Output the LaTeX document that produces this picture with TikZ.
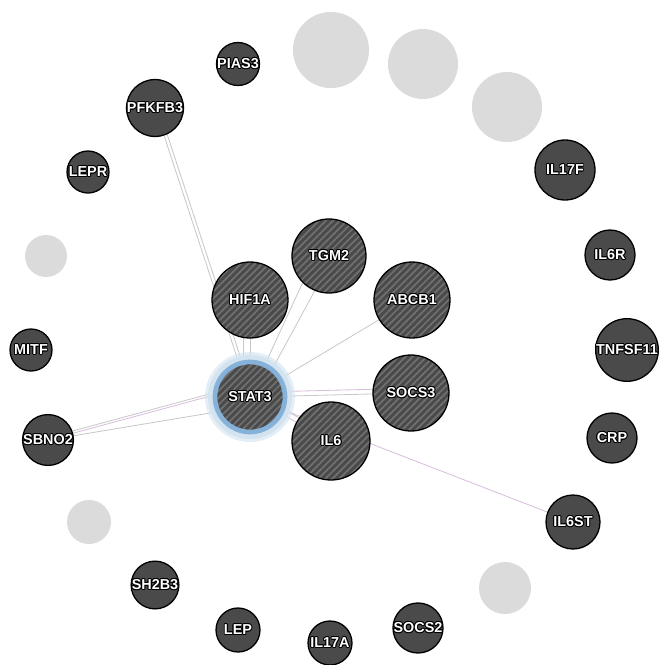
\documentclass[tikz,border=0pt]{standalone}
\usepackage{fontspec}
\newfontfamily\labelfont{Liberation Sans}
\usepackage[copies]{contour}
\contourlength{0.8pt}
\contournumber{12}
\usetikzlibrary{patterns.meta}
\definecolor{nodegray}{HTML}{4A4A4A}
\definecolor{stripegray}{HTML}{707070}
\definecolor{ghost}{HTML}{DBDBDB}
\definecolor{edgegray}{HTML}{C8C8C8}
\definecolor{edgeviolet}{HTML}{D8BEDD}
\definecolor{halo}{HTML}{86B1D8}
\definecolor{haloglow}{HTML}{D3E3F0}
% white label with a black outline
\newcommand\lbl[1]{\contour{black}{#1}}
\pgfdeclarelayer{bg}
\pgfdeclarelayer{edges}
\pgfsetlayers{bg,edges,main}
\tikzset{
  rad/.style={minimum size=#1*0.06cm},
  gene/.style={circle, draw=black, line width=1.1pt, fill=nodegray, text=white,
    inner sep=0pt, font=\labelfont\bfseries\fontsize{12.3}{13}\selectfont},
  query/.style={gene, preaction={fill=nodegray},
    pattern={Lines[angle=45,distance=4.2pt,line width=1.5pt]}, pattern color=stripegray},
  ghostnode/.style={circle, fill=ghost, draw=none, inner sep=0pt},
  link/.style={draw=edgegray, line width=0.7pt},
  vlink/.style={draw=edgeviolet, line width=0.7pt}
}
\begin{document}
\begin{tikzpicture}[x=0.03cm,y=-0.03cm]
\useasboundingbox (0,0) rectangle (661,665);
\begin{pgfonlayer}{bg}
  \fill[white] (0,0) rectangle (661,665);
\end{pgfonlayer}

% unconnected neighbours shown greyed out
\node[ghostnode, rad=38] (g1) at (331,50) {};
\node[ghostnode, rad=35] (g2) at (423,64) {};
\node[ghostnode, rad=35] (g3) at (507,107) {};
\node[ghostnode, rad=21] (g4) at (46,256) {};
\node[ghostnode, rad=22] (g5) at (89,522) {};
\node[ghostnode, rad=26] (g6) at (505,588) {};

% outer ring of genes
\node[gene, rad=21] (pias)  at (238,64)  {\lbl{PIAS3}};
\node[gene, rad=20] (pfk)   at (155,108) {\lbl{PFKFB3}};
\node[gene, rad=21] (lepr)  at (88,172)  {\lbl{LEPR}};
\node[gene, rad=21] (mitf)  at (31,350)  {\lbl{MITF}};
\node[gene, rad=22] (sbno)  at (48,440)  {\lbl{SBNO2}};
\node[gene, rad=22] (sh2b)  at (155,585) {\lbl{SH2B3}};
\node[gene, rad=22] (lep)   at (238,630) {\lbl{LEP}};
\node[gene, rad=22] (il17a) at (330,643) {\lbl{IL17A}};
\node[gene, rad=22] (socs2) at (418,628) {\lbl{SOCS2}};
\node[gene, rad=27] (il6st) at (573,522) {\lbl{IL6ST}};
\node[gene, rad=25] (crp)   at (612,438) {\lbl{CRP}};
\node[gene, rad=24] (tnf)   at (627,350) {\lbl{TNFSF11}};
\node[gene, rad=25] (il6r)  at (610,255) {\lbl{IL6R}};
\node[gene, rad=30] (il17f) at (565,170) {\lbl{IL17F}};

% query genes
\node[query, rad=37] (tgm2)  at (329,256) {\lbl{TGM2}};
\node[query, rad=38] (hif)   at (250,300) {\lbl{HIF1A}};
\node[query, rad=38] (abcb)  at (412,300) {\lbl{ABCB1}};
\node[query, rad=38] (socs3) at (411,393) {\lbl{SOCS3}};
\node[query, rad=39] (il6)   at (331,441) {\lbl{IL6}};

% STAT3 with its highlight
\fill[haloglow, opacity=0.6] (250,397) circle[radius=45];
\fill[haloglow] (250,397) circle[radius=42];
\node[query, rad=35, draw=halo, line width=4pt] (stat) at (250,397) {\lbl{STAT3}};

% interactions
\begin{pgfonlayer}{edges}
  \path[link]  (pfk.center) -- (stat.center);
  \path[link]  ([xshift=3]pfk.center) -- ([xshift=3]stat.center);
  \path[link]  (sbno.center) -- ([yshift=-8]stat.center);
  \path[vlink] (sbno.center) -- ([yshift=10]stat.center);
  \path[link]  ([yshift=2]sbno.center) -- ([yshift=12]stat.center);
  \path[link]  (stat.center) -- ([xshift=-12]tgm2.center);
  \path[link]  ([xshift=6]stat.center) -- ([xshift=4]tgm2.center);
  \path[link]  (stat.center) -- (abcb.center);
  \path[link]  (stat.center) -- (hif.center);
  \path[vlink] ([xshift=-6]stat.center) -- ([xshift=-6]hif.center);
  \path[link]  (stat.center) -- (socs3.center);
  \path[vlink] ([yshift=4]stat.center) -- ([yshift=4]socs3.center);
  \path[vlink] (stat.center) -- (il6.center);
  \path[link]  ([yshift=5]stat.center) -- ([yshift=5]il6.center);
  \path[vlink] (stat.center) -- (il6st.center);
\end{pgfonlayer}
\end{tikzpicture}
\end{document}
